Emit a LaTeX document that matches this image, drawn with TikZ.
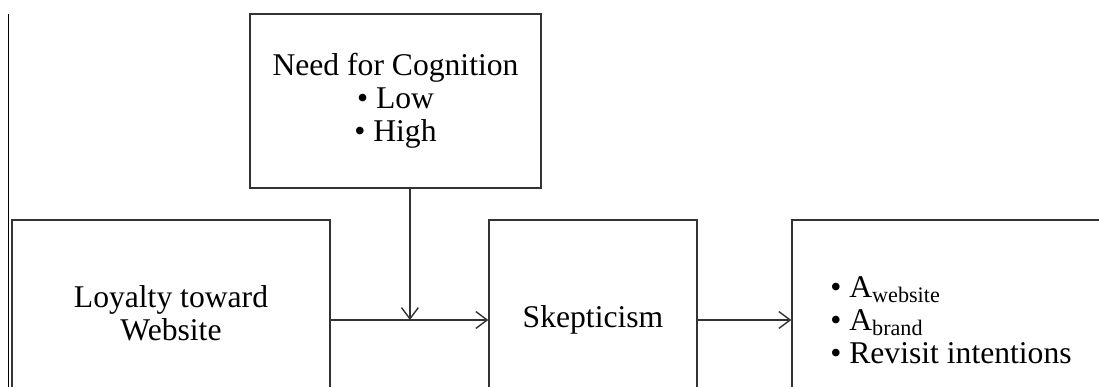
\documentclass[tikz,border=0pt]{standalone}
\usepackage{fontspec}
\setmainfont{Liberation Serif}
\usetikzlibrary{arrows.meta}
\begin{document}
\begin{tikzpicture}[
    box/.style={draw=black!80, line width=1pt, align=center, inner sep=0pt,
        font=\fontsize{22.5}{23.5}\selectfont},
    arr/.style={draw=black!80, line width=1pt, -{Straight Barb[length=8pt, width=12pt]}}
]
    \clip (0,0) rectangle (27.475,9.675);
    \draw[line width=0.7pt] (0.2,0) -- (0.2,9.325);
    \node[box, minimum width=7.275cm, minimum height=4.35cm] (need) at (9.8875,7.15)
        {Need for Cognition\\\textbullet\ Low\\\textbullet\ High};
    \node[box, minimum width=7.95cm, minimum height=4.65cm] (loyal) at (4.275,1.85)
        {Loyalty toward\\Website};
    \node[box, minimum width=5.2cm, minimum height=5cm] (skep) at (14.825,1.675)
        {Skepticism};
    \node[box, minimum width=7.95cm, minimum height=5cm, align=left] (outcome) at (23.775,1.675)
        {\textbullet\ A\textsubscript{website}\\\textbullet\ A\textsubscript{brand}\\\textbullet\ Revisit intentions};
    \coordinate (join) at ([xshift=0.36cm]need.south |- skep.west);
    \draw[arr] (loyal.east |- skep.west) -- (skep.west);
    \draw[arr] ([xshift=0.36cm]need.south) -- (join);
    \draw[arr] (skep.east) -- (outcome.west);
\end{tikzpicture}
\end{document}
